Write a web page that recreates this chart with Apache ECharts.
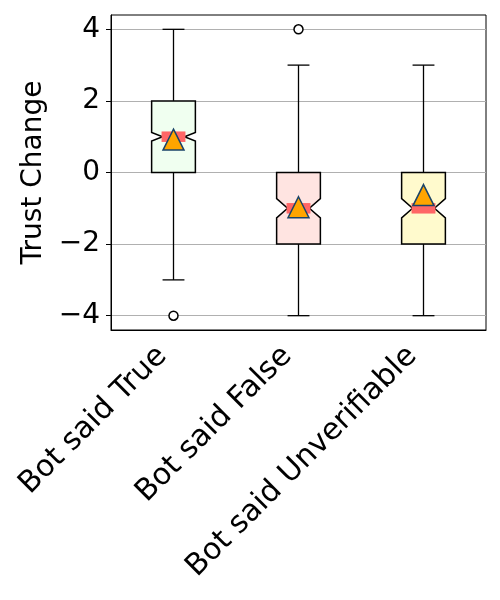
<!DOCTYPE html>
<html>
<head>
<meta charset="utf-8">
<script src="https://cdn.jsdelivr.net/npm/echarts@6/dist/echarts.min.js"></script>
<style>
  html, body { margin: 0; padding: 0; background: #fff; }
  #chart { width: 500px; height: 600px; }
</style>
</head>
<body>
<div id="chart"></div>
<script>
// data
var categories = ['Bot said True', 'Bot said False', 'Bot said Unverifiable'];
var whiskerLow = [-3, -4, -4];
var q1 = [0, -2, -2];
var median = [1, -1, -1];
var q3 = [2, 0, 0];
var whiskerHigh = [4, 3, 3];
var notchLow = [0.88, -1.27, -1.27];   // median confidence interval
var notchHigh = [1.12, -0.73, -0.73];
var means = [0.92, -0.97, -0.63];
var outlierCat = [0, 1];
var outlierVal = [-4, 4];
var yTicks = [-4, -2, 0, 2, 4];

var boxColors = ['#f0fff0', '#ffe4e1', '#fffacd'];
var boxWidth = 0.35;
var font = 'DejaVu Sans';

var boxRows = categories.map(function (c, i) {
  return [i, whiskerLow[i], q1[i], notchLow[i], median[i], notchHigh[i], q3[i], whiskerHigh[i]];
});
var meanRows = categories.map(function (c, i) { return [i, means[i]]; });
var outlierRows = outlierCat.map(function (c, i) { return [c, outlierVal[i]]; });

function renderBox(params, api) {
  var i = api.value(0);
  var x = api.coord([i, 0])[0];
  var band = api.coord([1, 0])[0] - api.coord([0, 0])[0];
  var w = band * boxWidth;
  var y = function (k) { return api.coord([i, api.value(k)])[1]; };
  var yWl = y(1), yQ1 = y(2), yNl = y(3), yMed = y(4), yNh = y(5), yQ3 = y(6), yWh = y(7);
  var L = x - w / 2, R = x + w / 2, mL = x - w / 4, mR = x + w / 4;
  var lineStyle = { stroke: '#000', lineWidth: 1.3 };
  return {
    type: 'group',
    children: [
      { type: 'line', shape: { x1: x, y1: yQ3, x2: x, y2: yWh }, style: lineStyle },
      { type: 'line', shape: { x1: x, y1: yQ1, x2: x, y2: yWl }, style: lineStyle },
      { type: 'line', shape: { x1: x - w / 4, y1: yWh, x2: x + w / 4, y2: yWh }, style: lineStyle },
      { type: 'line', shape: { x1: x - w / 4, y1: yWl, x2: x + w / 4, y2: yWl }, style: lineStyle },
      {
        type: 'polygon',
        shape: { points: [[L, yQ1], [R, yQ1], [R, yNl], [mR, yMed], [R, yNh], [R, yQ3],
                          [L, yQ3], [L, yNh], [mL, yMed], [L, yNl]] },
        style: { fill: boxColors[i], stroke: '#000', lineWidth: 1.5 }
      },
      {
        type: 'rect',
        shape: { x: mL - 1, y: yMed - 5.25, width: mR - mL + 2, height: 10.5 },
        style: { fill: '#ff6666' }
      }
    ]
  };
}

var chart = echarts.init(document.getElementById('chart'));
var option = {
  animation: false,
  grid: { left: 111, right: 14, top: 15, bottom: 270, show: true, borderColor: '#000', borderWidth: 1 },
  xAxis: {
    type: 'category',
    data: categories,
    boundaryGap: true,
    axisLine: { onZero: false, lineStyle: { color: '#000', width: 1 } },
    axisTick: { alignWithLabel: true, length: 5, lineStyle: { color: '#000' } },
    axisLabel: { rotate: 45, fontSize: 30, fontFamily: font, color: '#000', margin: 10, padding: [0, 16, 0, 0] },
    splitLine: { show: false }
  },
  yAxis: {
    type: 'value',
    min: -4.4,
    max: 4.4,
    name: 'Trust Change',
    nameLocation: 'middle',
    nameGap: 63,
    nameTextStyle: { fontSize: 28, fontFamily: font, color: '#000' },
    axisLine: { show: true, lineStyle: { color: '#000', width: 1 } },
    axisTick: { show: true, length: 5, customValues: yTicks, lineStyle: { color: '#000' } },
    axisLabel: {
      fontSize: 28, fontFamily: font, color: '#000', margin: 11,
      customValues: yTicks,
      formatter: function (v) { return v < 0 ? '\u2212' + Math.abs(v) : String(v); }
    },
    splitLine: { show: true, lineStyle: { color: '#b0b0b0', width: 1 } }
  },
  series: [
    {
      type: 'custom',
      renderItem: renderBox,
      data: boxRows,
      encode: { x: 0, y: [1, 2, 3, 4, 5, 6, 7] },
      z: 2
    },
    {
      type: 'scatter',
      data: outlierRows,
      symbol: 'circle',
      symbolSize: 9,
      itemStyle: { color: '#fff', borderColor: '#000', borderWidth: 1.5, opacity: 1 },
      z: 3
    },
    {
      type: 'scatter',
      data: meanRows,
      symbol: 'triangle',
      symbolSize: [21, 21],
      itemStyle: { color: '#ffa500', borderColor: '#1a4468', borderWidth: 1.5, opacity: 1 },
      z: 4
    }
  ]
};
chart.setOption(option);
</script>
</body>
</html>
